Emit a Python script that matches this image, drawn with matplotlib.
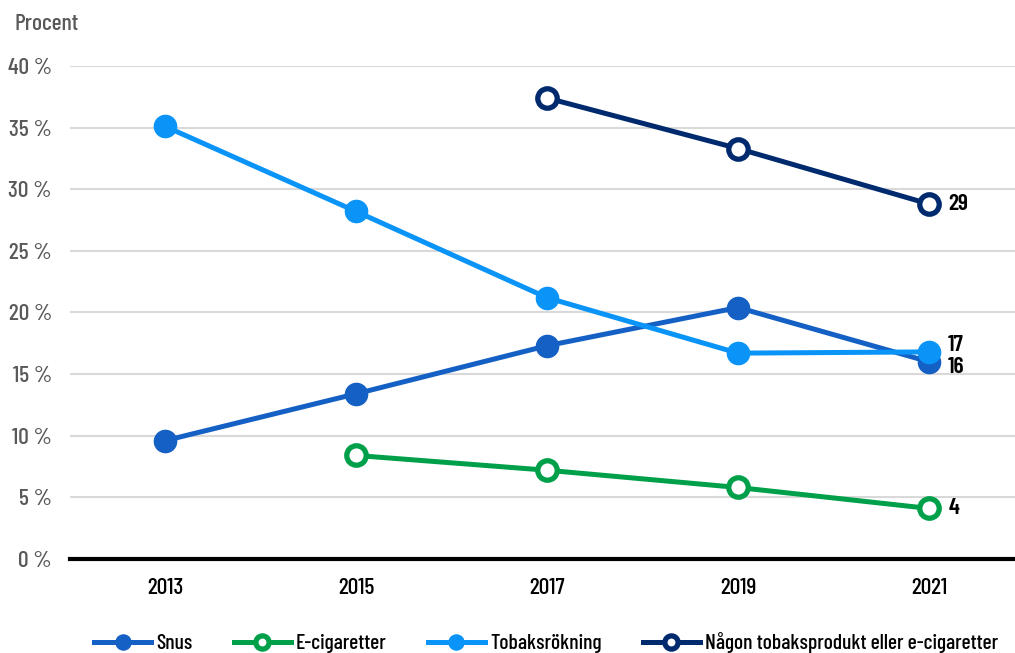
import matplotlib
matplotlib.use("Agg")
import matplotlib.pyplot as plt
import numpy as np

# Narrow face, falls back to DejaVu Sans
plt.rcParams["font.family"] = ["Barlow Condensed", "DejaVu Sans"]
plt.rcParams["font.weight"] = "medium"

# Data
years = ["2013", "2015", "2017", "2019", "2021"]
snus = [9.6, 13.4, 17.3, 20.4, 16.0]
ecig = [np.nan, 8.4, 7.2, 5.8, 4.1]
tobak = [35.1, 28.2, 21.2, 16.7, 16.8]
nagon = [np.nan, np.nan, 37.4, 33.3, 28.8]
end_labels = {"snus": "16", "ecig": "4", "tobak": "17", "nagon": "29"}

x = np.arange(len(years))

fig = plt.figure(figsize=(10.15, 6.53), dpi=100)
ax = fig.add_axes([0.069, 0.144, 0.931, 0.755])

c_snus = "#1560c4"
c_ecig = "#00a04a"
c_tobak = "#0a94f8"
c_nagon = "#002a6e"

lw = 3.6
ms = 16

ax.plot(x, snus, color=c_snus, lw=lw, marker="o", ms=ms, label="Snus", zorder=3)
ax.plot(x, ecig, color=c_ecig, lw=lw, marker="o", ms=ms - 2, mfc="white",
        mec=c_ecig, mew=3.8, label="E-cigaretter", zorder=3)
ax.plot(x, tobak, color=c_tobak, lw=lw, marker="o", ms=ms, label="Tobaksrökning", zorder=4)
ax.plot(x, nagon, color=c_nagon, lw=lw, marker="o", ms=ms - 2, mfc="white",
        mec=c_nagon, mew=3.8, label="Någon tobaksprodukt eller e-cigaretter", zorder=3)

# End labels
lab_kw = dict(fontsize=17, fontweight="semibold", color="black", va="center", ha="left")
ax.text(x[-1] + 0.1, snus[-1] - 0.4, end_labels["snus"], **lab_kw)
ax.text(x[-1] + 0.1, tobak[-1] + 0.6, end_labels["tobak"], **lab_kw)
ax.text(x[-1] + 0.1, ecig[-1], end_labels["ecig"], **lab_kw)
ax.text(x[-1] + 0.1, nagon[-1], end_labels["nagon"], **lab_kw)

ax.set_xlim(-0.497, 4.45)
ax.set_ylim(0, 40)
ax.set_yticks(range(0, 41, 5))
ax.set_yticklabels([f"{v} %" for v in range(0, 41, 5)])
ax.set_xticks(x)
ax.set_xticklabels(years)
ax.grid(axis="y", color="#d9d9d9", lw=1.5)
ax.set_axisbelow(True)
for s in ["top", "right", "left"]:
    ax.spines[s].set_visible(False)
ax.spines["bottom"].set_color("black")
ax.spines["bottom"].set_linewidth(3)
ax.tick_params(axis="both", length=0, labelsize=17)
ax.tick_params(axis="y", colors="#595959", pad=13)
ax.tick_params(axis="x", colors="black", pad=14)

fig.text(0.014, 0.963, "Procent", fontsize=17, color="#595959", va="center", ha="left")

fig.legend(loc="lower center", bbox_to_anchor=(0.538, -0.03), ncol=4, frameon=False,
           fontsize=15.5, handlelength=2.65, columnspacing=1.9, handletextpad=0.25,
           markerscale=0.68)

fig.savefig("out.png", dpi=100)
